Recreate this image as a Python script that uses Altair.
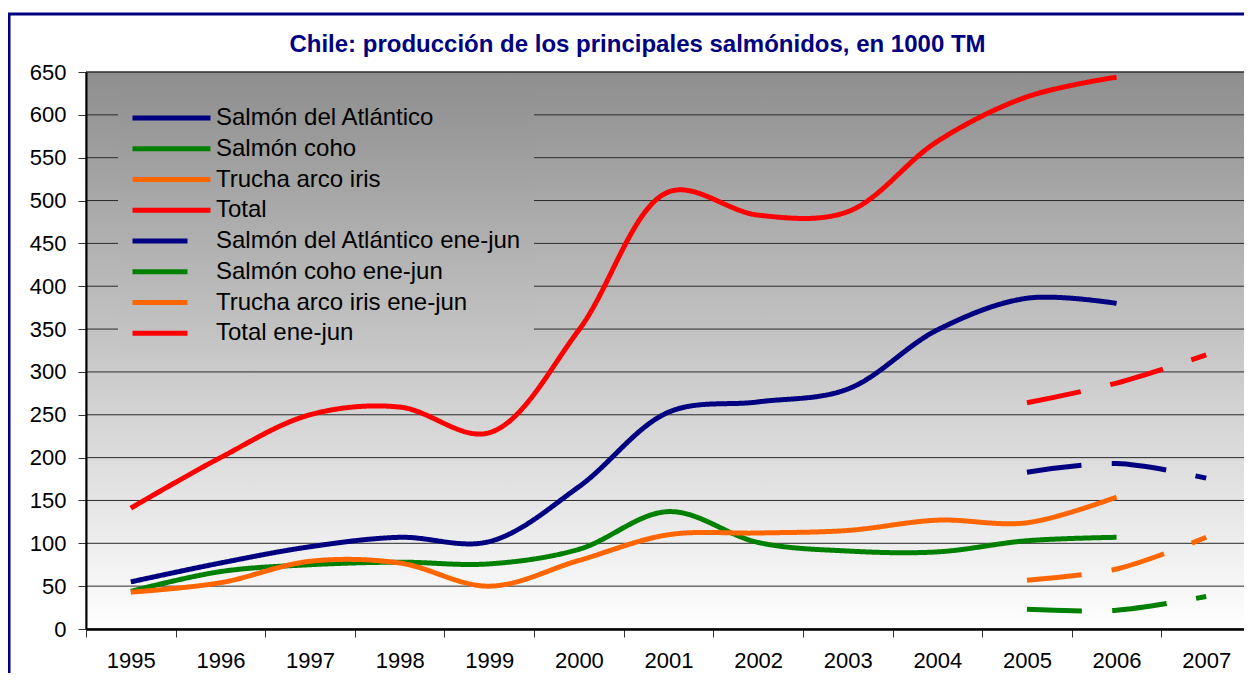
import altair as alt
import pandas as pd

# ---------------- data ----------------
years = ["1995", "1996", "1997", "1998", "1999", "2000", "2001",
         "2002", "2003", "2004", "2005", "2006", "2007"]
years_full = years[:12]
years_ej = ["2005", "2006", "2007"]

atlantico = [55, 77, 96, 107, 102, 166, 253, 265, 280, 349, 386, 380]
coho = [44, 67, 75, 78, 76, 93, 137, 101, 91, 90, 103, 107]
trucha = [43, 54, 79, 77, 50, 80, 110, 112, 115, 127, 124, 154]
total = [141, 200, 250, 259, 229, 349, 510, 483, 487, 569, 621, 644]

atlantico_ej = [183, 193, 176]
coho_ej = [23, 22, 38]
trucha_ej = [57, 70, 107]
total_ej = [264, 287, 320]

series = ["Salmón del Atlántico", "Salmón coho", "Trucha arco iris", "Total",
          "Salmón del Atlántico ene-jun", "Salmón coho ene-jun",
          "Trucha arco iris ene-jun", "Total ene-jun"]
y_ticks = list(range(0, 651, 50))

# ---------------- styles ----------------
colors = ["#000080", "#008000", "#FF6600", "#FF0000",
          "#000080", "#008000", "#FF6600", "#FF0000"]
dashes = [[1, 0]] * 4 + [[55, 30]] * 4
widths = [5, 5, 5, 5, 7, 7, 7, 7]
FONT = "Liberation Sans"
W, H = 1165, 557

rows = []
for name, xs, vals in [
    (series[0], years_full, atlantico), (series[1], years_full, coho),
    (series[2], years_full, trucha), (series[3], years_full, total),
    (series[4], years_ej, atlantico_ej), (series[5], years_ej, coho_ej),
    (series[6], years_ej, trucha_ej), (series[7], years_ej, total_ej)]:
    for x, v in zip(xs, vals):
        rows.append({"anio": x, "valor": v, "serie": name})
df = pd.DataFrame(rows)

one = pd.DataFrame({"k": [0]})

x_enc = alt.X("anio:N", sort=years,
              scale=alt.Scale(type="band", domain=years, paddingInner=0, paddingOuter=0),
              axis=alt.Axis(title=None, labelAngle=0, tickBand="extent", tickSize=8,
                            labelPadding=13, labelFontSize=22, labelFont=FONT,
                            labelColor="black", domainColor="black", domainWidth=2.5,
                            tickColor="#333", tickWidth=1, grid=False, zindex=1))
y_enc = alt.Y("valor:Q", scale=alt.Scale(domain=[0, 650], nice=False),
              axis=alt.Axis(title=None, values=y_ticks, tickSize=8, labelPadding=12,
                            labelFontSize=22, labelFont=FONT, labelColor="black",
                            domainColor="black", domainWidth=2, tickColor="#333",
                            tickWidth=1, grid=False, zindex=1))

background = alt.Chart(one).mark_rect(
    color=alt.LinearGradient(gradient="linear",
                             stops=[alt.GradientStop(color="#8e8e8e", offset=0),
                                    alt.GradientStop(color="#ffffff", offset=1)],
                             x1=0, x2=0, y1=0, y2=1),
    stroke="#333", strokeWidth=1
).encode(x=alt.value(0), x2=alt.value(W), y=alt.value(0), y2=alt.value(H))

grid = alt.Chart(pd.DataFrame({"valor": y_ticks[1:]})).mark_rule(
    color="#2a2a2a", strokeWidth=1).encode(y=alt.Y("valor:Q"))

# legend box (hides the grid lines behind the legend)
lt, lb = 18 / H, 283 / H
c_top = int(142 + 113 * lt)
c_bot = int(142 + 113 * lb)
legend_box = alt.Chart(one).mark_rect(
    color=alt.LinearGradient(gradient="linear",
                             stops=[alt.GradientStop(color="#%02x%02x%02x" % (c_top, c_top, c_top), offset=0),
                                    alt.GradientStop(color="#%02x%02x%02x" % (c_bot, c_bot, c_bot), offset=1)],
                             x1=0, x2=0, y1=0, y2=1)
).encode(x=alt.value(32), x2=alt.value(448), y=alt.value(18), y2=alt.value(283))

lines = alt.Chart(df).mark_line(interpolate="catmull-rom", strokeCap="butt").encode(
    x=x_enc, y=y_enc,
    color=alt.Color("serie:N", sort=series,
                    scale=alt.Scale(domain=series, range=colors),
                    legend=alt.Legend(title=None, orient="none", legendX=44, legendY=31,
                                      symbolType="stroke", symbolSize=78 * 78,
                                      clipHeight=30, rowPadding=0.75,
                                      labelFontSize=24, labelFont=FONT, labelColor="black",
                                      labelOffset=3, padding=0, labelLimit=500)),
    strokeDash=alt.StrokeDash("serie:N", sort=series,
                              scale=alt.Scale(domain=series, range=dashes)),
    strokeWidth=alt.StrokeWidth("serie:N", sort=series,
                                scale=alt.Scale(domain=series, range=widths)),
    detail="serie:N",
)

frame = alt.Chart(one).mark_rect(fill=None, stroke="#000080", strokeWidth=3).encode(
    x=alt.value(-77), x2=alt.value(W + 60), y=alt.value(-58), y2=alt.value(H + 90))

chart = alt.layer(background, grid, legend_box, lines, frame).properties(
    width=W, height=H,
    title=alt.TitleParams(text="Chile: producción de los principales salmónidos, en 1000 TM",
                          font=FONT, fontSize=24, fontWeight="bold", color="#000080",
                          anchor="middle", dx=-31, offset=-63, baseline="alphabetic"),
    autosize=alt.AutoSizeParams(type="none"),
    padding={"left": 78, "top": 64, "right": -7, "bottom": 44},
).configure_view(stroke=None).configure(background="white")

chart.save("out.html", embed_options={"renderer": "svg", "actions": False})
